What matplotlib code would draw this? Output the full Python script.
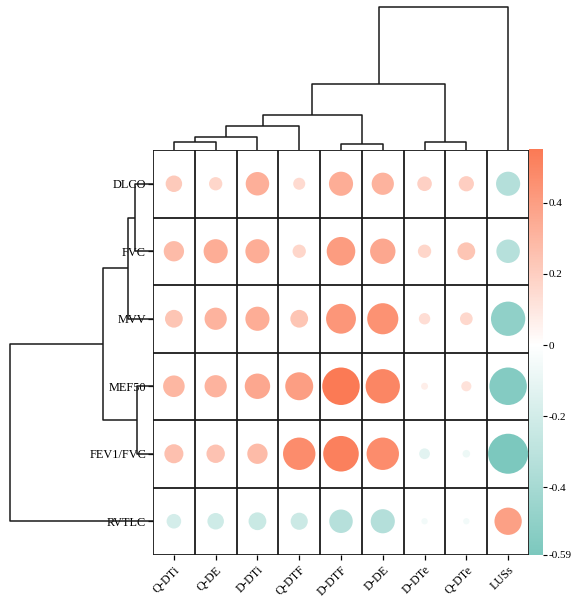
import numpy as np
import matplotlib
matplotlib.use("Agg")
import matplotlib.pyplot as plt
from matplotlib.colors import LinearSegmentedColormap, Normalize

plt.rcParams['font.family'] = ['Liberation Serif', 'DejaVu Serif']

# ---- data ----
col_labels = ['Q-DTi', 'Q-DE', 'D-DTi', 'Q-DTF', 'D-DTF', 'D-DE', 'D-DTe', 'Q-DTe', 'LUSs']
row_labels = ['DLCO', 'FVC', 'MVV', 'MEF50', 'FEV1/FVC', 'RVTLC']

r_dlco  = [0.22, 0.17, 0.33, 0.15, 0.34, 0.31, 0.19, 0.20, -0.34]
r_fvc   = [0.28, 0.34, 0.34, 0.17, 0.41, 0.36, 0.17, 0.24, -0.33]
r_mvv   = [0.24, 0.31, 0.34, 0.24, 0.43, 0.45, 0.14, 0.16, -0.50]
r_mef50 = [0.30, 0.31, 0.36, 0.40, 0.55, 0.50, 0.07, 0.12, -0.55]
r_fev   = [0.26, 0.25, 0.28, 0.47, 0.52, 0.47, -0.13, -0.08, -0.59]
r_rvtlc = [-0.19, -0.22, -0.24, -0.23, -0.33, -0.34, -0.06, -0.06, 0.39]

# linkage: (child a, child b, height); ids >= n are earlier merges
col_links = [(0, 1, 0.116), (9, 2, 0.186), (10, 3, 0.339), (4, 5, 0.088),
             (11, 12, 0.493), (6, 7, 0.107), (13, 14, 0.921), (15, 8, 2.0)]
row_links = [(0, 1, 0.252), (6, 2, 0.355), (3, 4, 0.224), (7, 8, 0.697), (9, 5, 2.0)]

cbar_ticks = [0.4, 0.2, 0, -0.2, -0.4, -0.59]
vmin, vmax = -0.59, 0.55

corr = np.array([r_dlco, r_fvc, r_mvv, r_mef50, r_fev, r_rvtlc])
nr, nc = corr.shape

# ---- colours ----
teal, coral = '#7cc8be', '#fb7a55'
wpos = (0 - vmin) / (vmax - vmin)
cmap = LinearSegmentedColormap.from_list('tc', [(0, teal), (wpos, 'white'), (1, coral)])
norm = Normalize(vmin=vmin, vmax=vmax)


def draw_dendro(ax, links, n, orient):
    pos = {i: (i + 0.5, 0.0) for i in range(n)}
    for k, (a, b, h) in enumerate(links):
        pa, ha = pos[a]
        pb, hb = pos[b]
        xs = [pa, pa, pb, pb]
        ys = [ha, h, h, hb]
        if orient == 'top':
            ax.plot(xs, ys, color='#1a1a1a', lw=1.1, clip_on=False, solid_capstyle='butt')
        else:
            ax.plot(ys, xs, color='#1a1a1a', lw=1.1, clip_on=False, solid_capstyle='butt')
        pos[n + k] = ((pa + pb) / 2, h)
    return links[-1][2]


W, H = 578, 600
fig = plt.figure(figsize=(W / 100, H / 100), dpi=100)

hx0, hx1, hy0, hy1 = 153, 529, 150, 555
ax = fig.add_axes([hx0 / W, 1 - hy1 / H, (hx1 - hx0) / W, (hy1 - hy0) / H])

# grid cells
for i in range(nc + 1):
    ax.axvline(i, color='#1a1a1a', lw=1.3)
for j in range(nr + 1):
    ax.axhline(j, color='#1a1a1a', lw=1.3)

yy, xx = np.mgrid[0:nr, 0:nc]
diam_px = 2.5 + 63.6 * np.abs(corr)
sizes = (diam_px * 0.72) ** 2
ax.scatter(xx.ravel() + 0.5, yy.ravel() + 0.5, s=sizes.ravel(), c=corr.ravel(),
           cmap=cmap, norm=norm, edgecolors='none', zorder=3)

ax.set_xlim(0, nc)
ax.set_ylim(nr, 0)
ax.set_xticks(np.arange(nc) + 0.5)
ax.set_xticklabels(col_labels, rotation=45, ha='right', rotation_mode='anchor', fontsize=8.8)
ax.set_yticks(np.arange(nr) + 0.5)
ax.set_yticklabels(row_labels, fontsize=8.8)
ax.tick_params(axis='x', length=3.5, width=0.9, pad=3)
ax.tick_params(axis='y', length=3.5, width=0.9, pad=1.5)
for sp in ax.spines.values():
    sp.set_visible(False)

# top dendrogram
axt = fig.add_axes([hx0 / W, 1 - hy0 / H, (hx1 - hx0) / W, (hy0 - 6.7) / H])
root = draw_dendro(axt, col_links, nc, 'top')
axt.set_xlim(0, nc)
axt.set_ylim(0, root)
axt.axis('off')

# left dendrogram
lx0 = 10.3
axl = fig.add_axes([lx0 / W, 1 - hy1 / H, (hx0 - lx0) / W, (hy1 - hy0) / H])
root = draw_dendro(axl, row_links, nr, 'left')
axl.set_xlim(root, 0)
axl.set_ylim(nr, 0)
axl.axis('off')

# colorbar
cax = fig.add_axes([529.3 / W, 1 - hy1 / H, 14 / W, (hy1 - 149.3) / H])
sm = plt.cm.ScalarMappable(cmap=cmap, norm=norm)
cb = fig.colorbar(sm, cax=cax, ticks=cbar_ticks)
cb.ax.set_yticklabels(['0.4', '0.2', '0', '-0.2', '-0.4', '-0.59'])
cb.ax.tick_params(labelsize=8, length=3, width=0.8, pad=1)
cb.outline.set_visible(False)

fig.savefig('out.png', dpi=100)
